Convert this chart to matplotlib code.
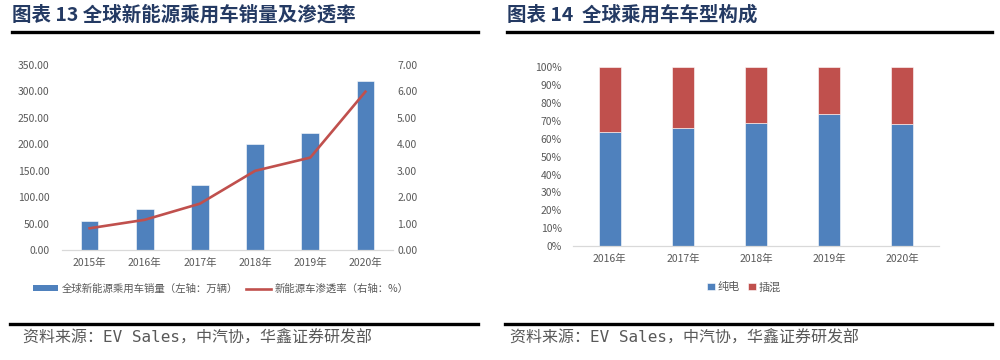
import matplotlib
matplotlib.use('Agg')
from matplotlib import pyplot as plt
from matplotlib.ticker import FuncFormatter, MultipleLocator
from matplotlib.lines import Line2D
from matplotlib.patches import Patch

plt.rcParams['font.family'] = ['Noto Sans CJK SC', 'DejaVu Sans']

# 数据
years_sales = ['2015年', '2016年', '2017年', '2018年', '2019年', '2020年']
ev_sales = [54, 77, 123, 201, 221, 320]          # 万辆
ev_penetration = [0.82, 1.14, 1.75, 2.99, 3.49, 5.98]  # %

years_mix = ['2016年', '2017年', '2018年', '2019年', '2020年']
bev_share = [0.64, 0.66, 0.69, 0.74, 0.68]
phev_share = [0.36, 0.34, 0.31, 0.26, 0.32]

title_left = '图表 13 全球新能源乘用车销量及渗透率'
title_right = '图表 14  全球乘用车车型构成'
source = '资料来源：EV Sales，中汽协，华鑫证券研发部'

blue = '#4F81BD'
red = '#C0504D'
tick_c = '#595959'
title_c = '#243A63'

fig = plt.figure(figsize=(10, 3.6), dpi=100)

# 标题和分隔线
fig.text(0.012, 0.958, title_left, fontsize=14, fontweight='bold', color=title_c, va='center')
fig.text(0.507, 0.958, title_right, fontsize=14, fontweight='bold', color=title_c, va='center')
fig.add_artist(Line2D([0.012, 0.478], [0.910, 0.910], color='black', lw=2.4))
fig.add_artist(Line2D([0.507, 0.992], [0.910, 0.910], color='black', lw=2.4))
fig.add_artist(Line2D([0.010, 0.478], [0.100, 0.100], color='black', lw=2.4))
fig.add_artist(Line2D([0.505, 0.992], [0.100, 0.100], color='black', lw=2.4))
mono = ['DejaVu Sans Mono', 'Noto Sans CJK SC']
fig.text(0.023, 0.060, source, fontsize=11.5, color=tick_c, va='center', family=mono)
fig.text(0.510, 0.060, source, fontsize=11.5, color=tick_c, va='center', family=mono)


def style_axis(ax):
    for s in ['top', 'left', 'right']:
        ax.spines[s].set_visible(False)
    ax.spines['bottom'].set_color('#D9D9D9')
    ax.spines['bottom'].set_linewidth(0.9)
    ax.tick_params(length=0, labelsize=7.5, labelcolor=tick_c)


# 左图：销量及渗透率
ax1 = fig.add_axes([0.062, 0.3056, 0.331, 0.5147])
x1 = range(len(years_sales))
ax1.bar(x1, ev_sales, width=0.32, color=blue, edgecolor='white', linewidth=0.4)
ax1.set_xlim(-0.5, len(years_sales) - 0.5)
ax1.set_ylim(0, 350)
ax1.yaxis.set_major_locator(MultipleLocator(50))
ax1.yaxis.set_major_formatter(FuncFormatter(lambda v, p: f'{v:.2f}'))
ax1.set_xticks(list(x1))
ax1.set_xticklabels(years_sales)
style_axis(ax1)
ax1.tick_params(axis='y', pad=9)
ax1.tick_params(axis='x', pad=6)

ax1r = ax1.twinx()
ax1r.plot(list(x1), ev_penetration, color=red, lw=1.9)
ax1r.set_ylim(0, 7)
ax1r.yaxis.set_major_locator(MultipleLocator(1))
ax1r.yaxis.set_major_formatter(FuncFormatter(lambda v, p: f'{v:.2f}'))
style_axis(ax1r)
ax1r.spines['bottom'].set_visible(False)
ax1r.tick_params(axis='y', pad=3)

handles1 = [Patch(facecolor=blue, edgecolor='none'), Line2D([], [], color=red, lw=1.9)]
labels1 = ['全球新能源乘用车销量（左轴：万辆）', '新能源车渗透率（右轴：%）']
ax1.legend(handles1, labels1, loc='center', bbox_to_anchor=(0.48, -0.21), ncol=2,
           frameon=False, fontsize=7.5, labelcolor=tick_c, handlelength=2.4,
           handleheight=0.45, handletextpad=0.3, columnspacing=0.8)

# 右图：车型构成
ax2 = fig.add_axes([0.573, 0.3167, 0.366, 0.4964])
x2 = range(len(years_mix))
ax2.bar(x2, bev_share, width=0.30, color=blue, edgecolor='white', linewidth=0.4, label='纯电')
ax2.bar(x2, phev_share, width=0.30, bottom=bev_share, color=red, edgecolor='white',
        linewidth=0.4, label='插混')
ax2.set_xlim(-0.5, len(years_mix) - 0.5)
ax2.set_ylim(0, 1)
ax2.yaxis.set_major_locator(MultipleLocator(0.1))
ax2.yaxis.set_major_formatter(FuncFormatter(lambda v, p: f'{v * 100:.0f}%'))
ax2.set_xticks(list(x2))
ax2.set_xticklabels(years_mix)
style_axis(ax2)
ax2.tick_params(axis='y', pad=8)
ax2.tick_params(axis='x', pad=6)
ax2.legend(loc='center', bbox_to_anchor=(0.467, -0.23), ncol=2, frameon=False,
           fontsize=8, labelcolor=tick_c, handlelength=0.7, handleheight=0.7,
           handletextpad=0.2, columnspacing=0.8)

fig.savefig('out.png', dpi=100)
